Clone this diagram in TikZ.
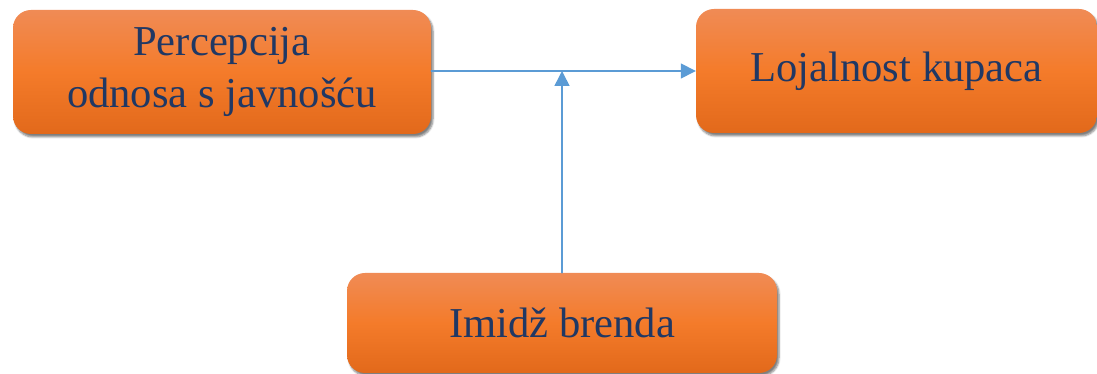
\documentclass[tikz,border=0pt]{standalone}
\usepackage{fontspec}
\setmainfont{Liberation Serif}
\usetikzlibrary{arrows.meta,shadows.blur}
\definecolor{narGore}{HTML}{F08B55}
\definecolor{narSred}{HTML}{F47B2A}
\definecolor{narDolje}{HTML}{E2691B}
\definecolor{tekst}{HTML}{203864}
\definecolor{veza}{HTML}{5B9BD5}
\begin{document}
\begin{tikzpicture}[x=1pt,y=1pt,line cap=round,line join=round,>={Triangle[length=15pt,width=15pt]},
	blok/.style={rectangle,rounded corners=18pt,top color=narGore,bottom color=narDolje,middle color=narSred,
		blur shadow={shadow xshift=2pt,shadow yshift=-3pt,shadow blur steps=6,shadow opacity=50},
		text=tekst,align=center,font=\fontsize{42.6}{52}\selectfont,inner sep=0pt}]
	\useasboundingbox (0,0) rectangle (1097,374);
	\node[blok,minimum width=418pt,minimum height=124pt] (percepcija) at (222,302) {Percepcija\\odnosa s javnošću};
	\node[blok,minimum width=401pt,minimum height=124pt] (lojalnost) at (896.5,303) {Lojalnost kupaca};
	\node[blok,minimum width=430pt,minimum height=100pt] (imidz) at (562,51) {Imidž brenda};
	\draw[->,veza,line width=1.5pt] (percepcija.east |- lojalnost.west) -- (lojalnost.west);
	\draw[->,veza,line width=1.5pt] (imidz.north) -- (imidz.north |- lojalnost.west);
\end{tikzpicture}
\end{document}
